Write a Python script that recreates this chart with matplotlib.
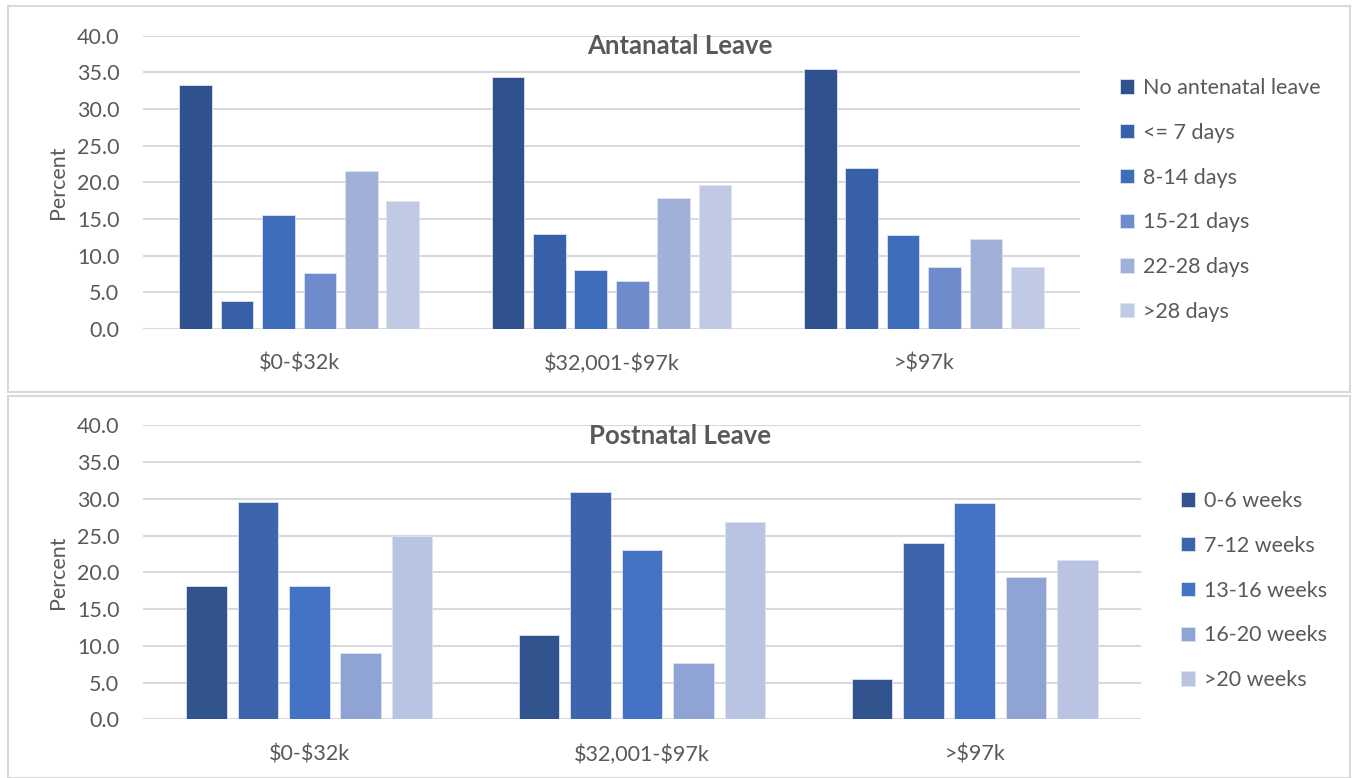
import numpy as np
import matplotlib
matplotlib.use("Agg")
import matplotlib.pyplot as plt
from matplotlib.patches import Rectangle

plt.rcParams['font.family'] = ['Lato', 'DejaVu Sans']
plt.rcParams['text.parse_math'] = False

# data
groups = ['$0-$32k', '$32,001-$97k', '>$97k']

ante_labels = ['No antenatal leave', '<= 7 days', '8-14 days', '15-21 days', '22-28 days', '>28 days']
ante_vals = [
    [33.3, 34.4, 35.5],   # No antenatal leave
    [3.8, 12.9, 21.9],    # <= 7 days
    [15.6, 8.0, 12.8],    # 8-14 days
    [7.7, 6.5, 8.5],      # 15-21 days
    [21.5, 17.9, 12.3],   # 22-28 days
    [17.5, 19.6, 8.5],    # >28 days
]
ante_colors = ['#2F528F', '#3760A8', '#3E6DBB', '#6E8BCB', '#A0B0D8', '#C0CAE4']

post_labels = ['0-6 weeks', '7-12 weeks', '13-16 weeks', '16-20 weeks', '>20 weeks']
post_vals = [
    [18.2, 11.5, 5.5],    # 0-6 weeks
    [29.6, 30.9, 24.0],   # 7-12 weeks
    [18.2, 23.1, 29.4],   # 13-16 weeks
    [9.0, 7.7, 19.4],     # 16-20 weeks
    [25.0, 26.9, 21.7],   # >20 weeks
]
post_colors = ['#31548F', '#3C65AC', '#4472C4', '#8FA3D4', '#B9C3E2']

txt = '#595959'
grid = '#D9D9D9'
W, H = 1353, 778
fs = 15.5

fig = plt.figure(figsize=(W / 100, H / 100), dpi=100)

# panel borders
fig.patches.append(Rectangle((8 / W, 1 - 392 / H), (1350 - 8) / W, (392 - 6) / H,
                             transform=fig.transFigure, fill=False, ec=grid, lw=1.5))
fig.patches.append(Rectangle((8 / W, 1 - 778 / H), (1350 - 8) / W, (778 - 396) / H,
                             transform=fig.transFigure, fill=False, ec=grid, lw=1.5))


def panel(rect, vals, labels, colors, pitch, width, title, title_y, leg_x, leg_y):
    ax = fig.add_axes(rect)
    x = np.arange(len(groups))
    n = len(vals)
    for i in range(n):
        off = (i - (n - 1) / 2) * pitch
        ax.bar(x + off, vals[i], width, color=colors[i], label=labels[i],
               edgecolor='#DCE3F2', linewidth=0.6, zorder=3)
    ax.set_xlim(-0.5, 2.5)
    ax.set_ylim(0, 40)
    ax.set_yticks(np.arange(0, 41, 5))
    ax.set_yticklabels(['%.1f' % v for v in np.arange(0, 41, 5)])
    ax.set_xticks(x)
    ax.set_xticklabels(groups)
    ax.grid(axis='y', color=grid, lw=1.5, zorder=0)
    for s in ax.spines.values():
        s.set_visible(False)
    ax.tick_params(axis='both', length=0, labelsize=fs, colors=txt)
    ax.tick_params(axis='y', pad=17)
    ax.tick_params(axis='x', pad=18)
    ax.set_ylabel('Percent', fontsize=fs, color=txt, labelpad=6)
    fig.text(680 / W, 1 - title_y / H, title, ha='center', va='center',
             fontsize=18.5, fontweight='bold', color=txt)
    fig.legend(*ax.get_legend_handles_labels(), loc='upper left',
               bbox_to_anchor=(leg_x / W, 1 - leg_y / H), frameon=False,
               fontsize=fs, labelcolor=txt, handlelength=0.65, handleheight=0.65,
               handletextpad=0.4, labelspacing=1.15, borderaxespad=0, borderpad=0)
    return ax


panel([143 / W, 1 - 329 / H, (1080 - 143) / W, (329 - 35.7) / H],
      ante_vals, ante_labels, ante_colors, 0.1327, 0.1048,
      'Antanatal Leave', 46, 1120, 78)

panel([143 / W, 1 - 719.3 / H, (1141 - 143) / W, (719.3 - 425.3) / H],
      post_vals, post_labels, post_colors, 0.1545, 0.122,
      'Postnatal Leave', 436, 1181, 491)

fig.savefig('out.png', dpi=100)
